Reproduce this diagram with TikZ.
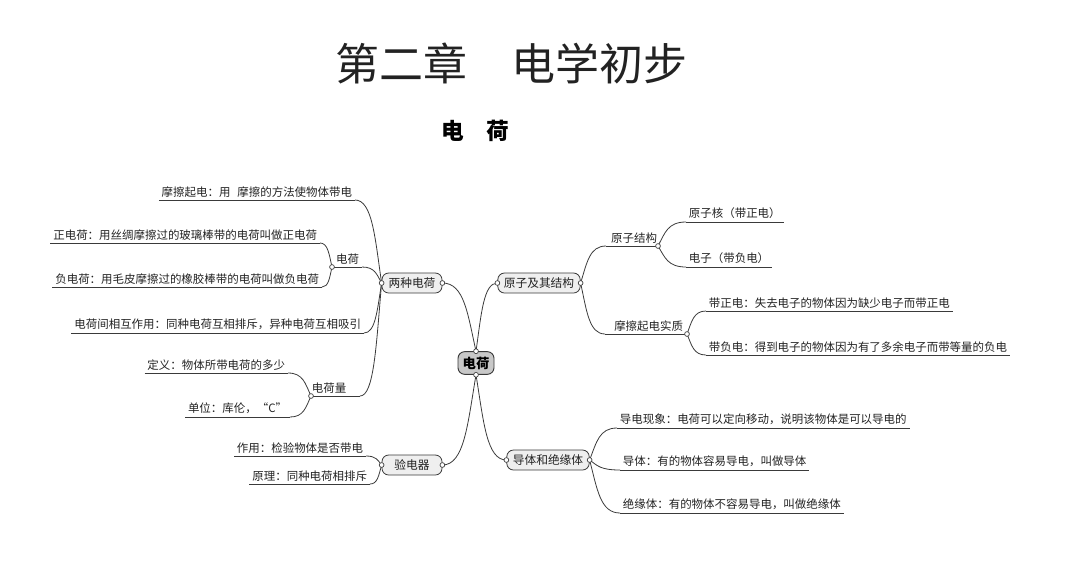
\documentclass[tikz,border=0pt]{standalone}
\usepackage{fontspec}
\usetikzlibrary{calc}
\newfontfamily\cjk{Noto Sans CJK SC}
\definecolor{linec}{HTML}{3A3A3A}
\definecolor{textc}{HTML}{222222}
\definecolor{boxfill}{HTML}{EFEFEF}
\definecolor{rootfill}{HTML}{C8C8C8}
\tikzset{
  conn/.style={draw=linec, line width=0.6pt},
  leaf/.style={font=\cjk\fontsize{8.6pt}{10pt}\selectfont, text=textc, inner xsep=2pt, inner ysep=2pt},
  leafL/.style={leaf, anchor=south east},
  leafR/.style={leaf, anchor=south west},
  topic/.style={draw=linec, line width=0.6pt, fill=boxfill, rounded corners=5pt,
    font=\cjk\fontsize{8.8pt}{10pt}\selectfont, text=textc, minimum width=45pt, minimum height=15pt, inner xsep=4.5pt, inner ysep=1pt},
  rootbox/.style={draw=linec, line width=0.7pt, fill=rootfill, rounded corners=5pt,
    font=\cjk\fontsize{10pt}{12pt}\selectfont\bfseries, text=black, minimum width=27pt, minimum height=17pt, inner xsep=3pt, inner ysep=1pt},
  dotc/.style={draw=linec, fill=white, line width=0.5pt}
}
\newcommand{\conn}[2]{\draw[conn] let \p1=(#1), \p2=(#2) in (\p1) .. controls ({\x1+0.25*(\x2-\x1)},{\y1+0.55*(\y2-\y1)}) and ({\x2-0.65*(\x2-\x1)},{\y2}) .. (\p2);}
\begin{document}
\begin{tikzpicture}[x=0.75pt, y=-0.75pt]
\useasboundingbox (0,0) rectangle (1080,569);
% titles
\node[font=\cjk\fontsize{33pt}{36pt}\selectfont, text=textc] (title) at (511,63) {第二章　电学初步};
\node[font=\cjk\fontsize{17pt}{20pt}\selectfont\bfseries, text=black] (sub) at (475,131) {电\hspace{1em}荷};
% root and main topics
\node[rootbox] (root) at (476,363) {电荷};
\node[topic] (n1) at (412,283) {两种电荷};
\node[topic] (n2) at (539,283) {原子及其结构};
\node[topic] (n3) at (548,460) {导体和绝缘体};
\node[topic] (n4) at (412,465) {验电器};
% left leaves
\node[leafL] (l1) at (355,200) {摩擦起电：用\hspace{0.6em}摩擦的方法使物体带电};
\node[leafL] (l2) at (320,243) {正电荷：用丝绸摩擦过的玻璃棒带的电荷叫做正电荷};
\node[leafL] (l3) at (322,287) {负电荷：用毛皮摩擦过的橡胶棒带的电荷叫做负电荷};
\node[leafL] (l4) at (364,333) {电荷间相互作用：同种电荷互相排斥，异种电荷互相吸引};
\node[leafL] (l5) at (288,373) {定义：物体所带电荷的多少};
\node[leafL] (l6) at (290,417) {单位：库伦，“C”};
\node[leafL] (l7) at (366,456) {作用：检验物体是否带电};
\node[leafL] (l8) at (370,484) {原理：同种电荷相排斥};
% right leaves
\node[leafR] (r1) at (686,222) {原子核（带正电）};
\node[leafR] (r2) at (686,267) {电子（带负电）};
\node[leafR] (r3) at (706,311) {带正电：失去电子的物体因为缺少电子而带正电};
\node[leafR] (r4) at (706,355) {带负电：得到电子的物体因为有了多余电子而带等量的负电};
\node[leafR] (r5) at (617,428) {导电现象：电荷可以定向移动，说明该物体是可以导电的};
\node[leafR] (r6) at (620,470) {导体：有的物体容易导电，叫做导体};
\node[leafR] (r7) at (620,513) {绝缘体：有的物体不容易导电，叫做绝缘体};
% level-2 sub topics
\node[leafL] (q1) at (362,267) {电荷};
\coordinate (q1d) at (332,267);
\coordinate (q1e) at (362,267);
\node[leafR] (q2) at (309,396) {电荷量};
\coordinate (q2d) at (311,396);
\coordinate (q2e) at (360,396);
\node[leafL] (q3) at (660,246) {原子结构};
\coordinate (q3s) at (606,246);
\coordinate (q3d) at (658,246);
\node[leafL] (q4) at (686,334) {摩擦起电实质};
\coordinate (q4s) at (605,334);
\coordinate (q4d) at (687,334);
% underlines
\foreach \n in {l1,l2,l3,l4,l5,l6,l7,l8,r1,r2,r3,r4,r5,r6,r7}
  \draw[conn] (\n.south west) -- (\n.south east);
\draw[conn] (q1d) -- (q1e);
\draw[conn] (q2d) -- (q2e);
\draw[conn] (q3s) -- (q3d);
\draw[conn] (q4s) -- (q4d);
% connectors
\conn{root.north}{n1.east}
\conn{root.north}{n2.west}
\conn{root.south}{n4.east}
\conn{root.south}{n3.west}
\conn{n1.west}{l1.south east}
\conn{n1.west}{q1e}
\conn{n1.west}{l4.south east}
\conn{n1.west}{q2e}
\conn{q1d}{l2.south east}
\conn{q1d}{l3.south east}
\conn{q2d}{l5.south east}
\conn{q2d}{l6.south east}
\conn{n4.west}{l7.south east}
\conn{n4.west}{l8.south east}
\conn{n2.east}{q3s}
\conn{n2.east}{q4s}
\conn{q3d}{r1.south west}
\conn{q3d}{r2.south west}
\conn{q4d}{r3.south west}
\conn{q4d}{r4.south west}
\conn{n3.east}{r5.south west}
\conn{n3.east}{r6.south west}
\conn{n3.east}{r7.south west}
% dots
\foreach \p in {root.north,root.south,n1.west,n1.east,n2.west,n2.east,n3.west,n3.east,n4.west,n4.east,q1d,q2d,q3d,q4d}
  \draw[dotc] (\p) circle (1.8pt);
\end{tikzpicture}
\end{document}
